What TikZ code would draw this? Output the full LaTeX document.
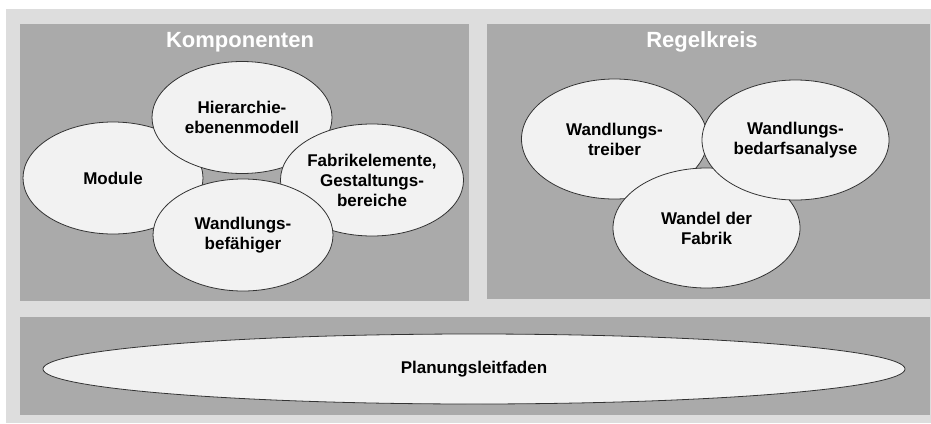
\documentclass[tikz,border=0pt]{standalone}
\usepackage{fontspec}
\setmainfont{Liberation Sans}
\usetikzlibrary{shapes.geometric}

\definecolor{hellgrau}{HTML}{DDDDDD}
\definecolor{feldgrau}{HTML}{AAAAAA}
\definecolor{blasenweiss}{HTML}{F2F2F2}

\tikzset{
  blase/.style={ellipse, draw=black!80, line width=0.8pt, fill=blasenweiss,
    inner sep=0pt, align=center, minimum width=180pt, minimum height=112pt,
    font=\fontsize{17}{20}\selectfont\bfseries},
  titel/.style={text=white, font=\fontsize{22}{26}\selectfont\bfseries}
}

\begin{document}
\begin{tikzpicture}[x=1pt,y=-1pt]
            \useasboundingbox (0,0) rectangle (931,423);
            \fill[hellgrau] (6,9) rectangle (931,423);
            \fill[feldgrau] (20,24) rectangle (469,301);
            \fill[feldgrau] (487,24) rectangle (930,299);
            \fill[feldgrau] (20,317) rectangle (930,415);
            % Komponenten
            \node[titel] (komp) at (240,42) {Komponenten};
            \node[blase] (module) at (113,178) {Module};
            \node[blase] (hierarchie) at (242,117.5) {Hierarchie-\\ebenenmodell};
            \node[blase] (fabrik) at (372,180) {Fabrikelemente,\\Gestaltungs-\\bereiche};
            \node[blase] (befaehiger) at (243,235) {Wandlungs-\\befähiger};
            % Regelkreis
            \node[titel] (regel) at (702,42) {Regelkreis};
            \node[blase, minimum width=186pt, minimum height=120pt] (treiber) at (614.5,139) {Wandlungs-\\treiber};
            \node[blase, minimum width=187pt, minimum height=120pt] (wandel) at (706.5,228) {Wandel der\\Fabrik};
            \node[blase, minimum width=187pt, minimum height=120pt] (bedarf) at (795.5,140) {Wandlungs-\\bedarfsanalyse};
            % Leitfaden
            \node[blase, minimum width=862pt, minimum height=70pt] (leitfaden) at (474,369) {Planungsleitfaden};
\end{tikzpicture}
\end{document}
